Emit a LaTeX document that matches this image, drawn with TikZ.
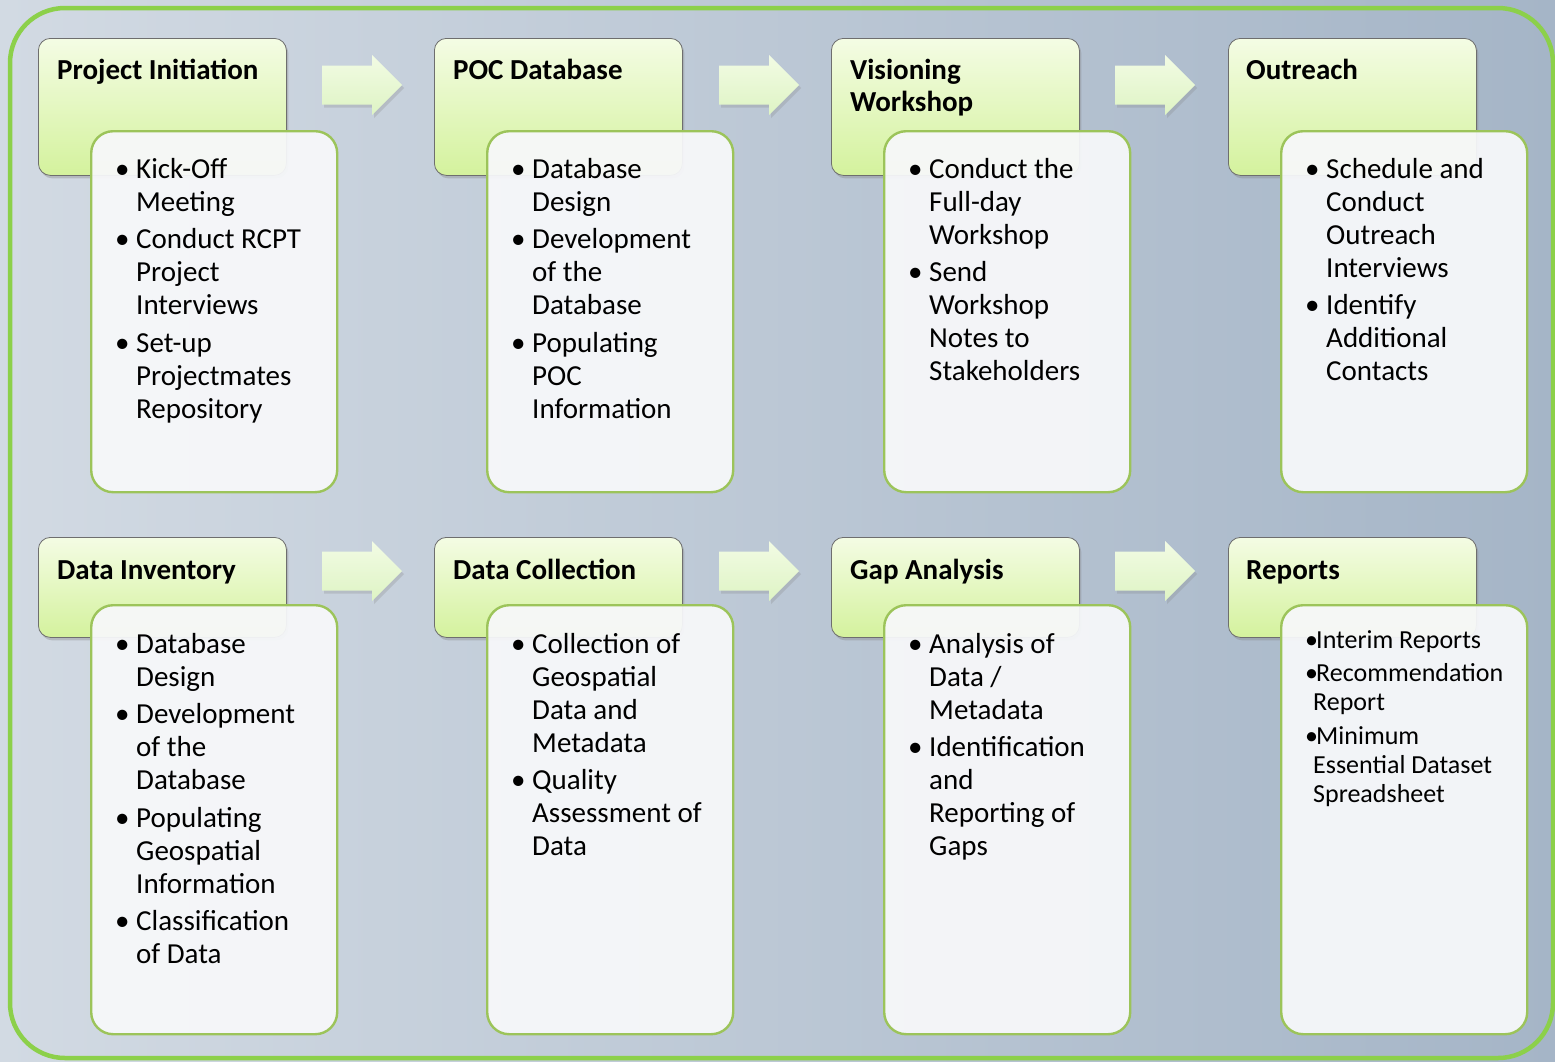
\documentclass[tikz,border=0pt]{standalone}
\usepackage{fontspec}
\setmainfont{Carlito}
\usetikzlibrary{shadows}
\definecolor{bgL}{HTML}{D2DAE3}
\definecolor{bgR}{HTML}{A5B5C7}
\definecolor{frameG}{HTML}{8CD04A}
\definecolor{hdTop}{HTML}{F4FCE4}
\definecolor{hdBot}{HTML}{D4F29D}
\definecolor{hdLine}{HTML}{6E6E6E}
\definecolor{bdFill}{HTML}{F7F8FA}
\definecolor{bdLine}{HTML}{9CC45A}
\definecolor{arT}{HTML}{F2FBE4}
\definecolor{arB}{HTML}{DEF4C4}
% bullet lists built from tabulars
\newcommand{\bi}[1]{\makebox[21pt][l]{\textbullet}&\begin{tabular}[t]{@{}l@{}}#1\end{tabular}}
\newcommand{\ri}[1]{\makebox[8pt][l]{\textbullet}&\begin{tabular}[t]{@{}l@{}}#1\end{tabular}}
\newcommand{\nx}{\\\noalign{\vskip4.5pt}}
\newcommand{\blist}[1]{\begin{tabular}[t]{@{}l@{}l@{}}#1\end{tabular}}
\newcommand{\hlines}[1]{\begin{tabular}[t]{@{}l@{}}#1\end{tabular}}
\tikzset{
  hdbox/.style={draw=hdLine, line width=0.8pt, rounded corners=12pt, top color=hdTop, bottom color=hdBot,
    anchor=north west, minimum width=248pt, inner sep=0pt,
    drop shadow={shadow xshift=2pt, shadow yshift=-3pt, opacity=0.35}},
  bdbox/.style={draw=bdLine, line width=2.4pt, rounded corners=22pt, fill=bdFill, fill opacity=0.94,
    anchor=north west, minimum width=246pt, inner sep=0pt},
  hdtext/.style={anchor=base west, inner sep=0pt, font=\fontsize{29}{32}\selectfont\bfseries},
  bdtext/.style={anchor=base west, inner sep=0pt, font=\fontsize{29}{33}\selectfont},
  rptext/.style={anchor=base west, inner sep=0pt, font=\fontsize{26}{29}\selectfont},
  arrowfill/.style={top color=arT, bottom color=arB,
    drop shadow={shadow xshift=2pt, shadow yshift=-3pt, opacity=0.25}}
}
\newcommand{\blockarrow}[2]{%
  \path[arrowfill, shift={(#1,#2)}] (0,-19.5) -- (50,-19.5) -- (50,-30) -- (80,0) -- (50,30) -- (50,19.5) -- (0,19.5) -- cycle;}
\begin{document}
\begin{tikzpicture}[x=1pt,y=-1pt]
\useasboundingbox (0,0) rectangle (1555,1061);
\shade[left color=bgL, right color=bgR] (0,0) rectangle (1555,1061);
\draw[frameG, line width=4.5pt, rounded corners=55pt] (10,8) rectangle (1553,1058);

% arrows
\blockarrow{322}{85}
\blockarrow{719}{85}
\blockarrow{1115}{85}
\blockarrow{322}{571}
\blockarrow{719}{571}
\blockarrow{1115}{571}

% ---------- Row 1 ----------
\node[hdbox, minimum height=137pt] (h1) at (38,38) {};
\node[hdbox, minimum height=137pt] (h2) at (434,38) {};
\node[hdbox, minimum height=137pt] (h3) at (831,38) {};
\node[hdbox, minimum height=137pt] (h4) at (1228,38) {};
\node[bdbox, minimum height=361pt] (b1) at (90,130) {};
\node[bdbox, minimum height=361pt] (b2) at (486,130) {};
\node[bdbox, minimum height=361pt] (b3) at (883,130) {};
\node[bdbox, minimum height=361pt] (b4) at (1280,130) {};

\node[hdtext] (t1) at (57,79) {Project Initiation};
\node[hdtext] (t2) at (453,79) {POC Database};
\node[hdtext] (t3) at (850,79) {\hlines{Visioning\\Workshop}};
\node[hdtext] (t4) at (1246,79) {Outreach};

\node[bdtext] (l1) at (115,178) {\blist{\bi{Kick-Off\\Meeting}\nx\bi{Conduct RCPT\\Project\\Interviews}\nx\bi{Set-up\\Projectmates\\Repository}}};
\node[bdtext] (l2) at (511,178) {\blist{\bi{Database\\Design}\nx\bi{Development\\of the\\Database}\nx\bi{Populating\\POC\\Information}}};
\node[bdtext] (l3) at (908,178) {\blist{\bi{Conduct the\\Full-day\\Workshop}\nx\bi{Send\\Workshop\\Notes to\\Stakeholders}}};
\node[bdtext] (l4) at (1305,178) {\blist{\bi{Schedule and\\Conduct\\Outreach\\Interviews}\nx\bi{Identify\\Additional\\Contacts}}};

% ---------- Row 2 ----------
\node[hdbox, minimum height=100pt] (h5) at (38,537) {};
\node[hdbox, minimum height=100pt] (h6) at (434,537) {};
\node[hdbox, minimum height=100pt] (h7) at (831,537) {};
\node[hdbox, minimum height=100pt] (h8) at (1228,537) {};
\node[bdbox, minimum height=429pt] (b5) at (90,604) {};
\node[bdbox, minimum height=429pt] (b6) at (486,604) {};
\node[bdbox, minimum height=429pt] (b7) at (883,604) {};
\node[bdbox, minimum height=429pt] (b8) at (1280,604) {};

\node[hdtext] (t5) at (57,579) {Data Inventory};
\node[hdtext] (t6) at (453,579) {Data Collection};
\node[hdtext] (t7) at (850,579) {Gap Analysis};
\node[hdtext] (t8) at (1246,579) {Reports};

\node[bdtext] (l5) at (115,653) {\blist{\bi{Database\\Design}\nx\bi{Development\\of the\\Database}\nx\bi{Populating\\Geospatial\\Information}\nx\bi{Classification\\of Data}}};
\node[bdtext] (l6) at (511,653) {\blist{\bi{Collection of\\Geospatial\\Data and\\Metadata}\nx\bi{Quality\\Assessment of\\Data}}};
\node[bdtext] (l7) at (908,653) {\blist{\bi{Analysis of\\Data /\\Metadata}\nx\bi{Identification\\and\\Reporting of\\Gaps}}};
\node[rptext] (l8) at (1305,648) {\blist{\ri{\hspace{3pt}Interim Reports}\nx\ri{\hspace{3pt}Recommendation\\Report}\nx\ri{\hspace{3pt}Minimum\\Essential Dataset\\Spreadsheet}}};
\end{tikzpicture}
\end{document}
